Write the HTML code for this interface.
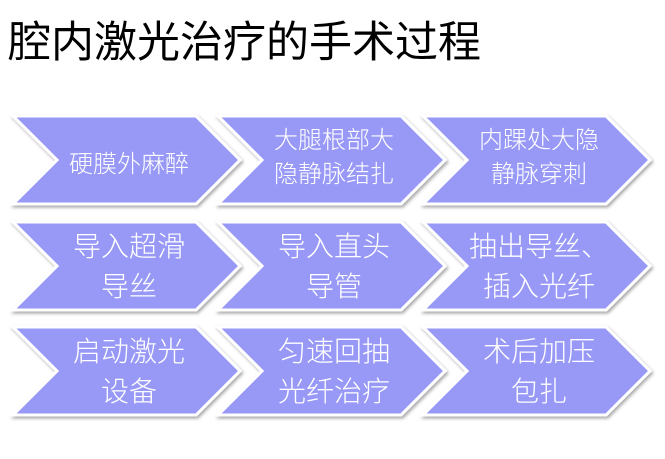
<!DOCTYPE html>
<html><head><meta charset="utf-8"><style>
body{margin:0;width:665px;height:459px;background:#fff;overflow:hidden;position:relative;font-family:"Liberation Sans","Noto Sans CJK SC",sans-serif}
.t{position:absolute;left:8px;top:8px;font-size:43px;color:#000;white-space:nowrap}
.l{position:absolute;color:#fff;text-align:center;width:180px;white-space:nowrap;font-weight:300}
</style></head><body>
<div class="t">腔内激光治疗的手术过程</div>
<svg width="665" height="459" style="position:absolute;left:0;top:0">
<defs><filter id="s" x="-10%" y="-10%" width="130%" height="130%"><feDropShadow dx="1.5" dy="2" stdDeviation="1.5" flood-color="#000" flood-opacity="0.35"/></filter>
<g id="c"><polygon points="0,0 183,0 227,44 183,88 0,88 44,44" fill="#9899f6" stroke="#fff" stroke-width="3" stroke-linejoin="miter" filter="url(#s)"/></g></defs>
<use href="#c" x="13" y="116"/><use href="#c" x="218" y="116"/><use href="#c" x="423" y="116"/>
<use href="#c" x="13" y="222"/><use href="#c" x="218" y="222"/><use href="#c" x="423" y="222"/>
<use href="#c" x="13" y="327"/><use href="#c" x="218" y="327"/><use href="#c" x="423" y="327"/>
</svg>
<div class="l" style="left:39px;top:144px;font-size:24px">硬膜外麻醉</div>
<div class="l" style="left:244px;top:124px;font-size:24px;line-height:34px">大腿根部大<br>隐静脉结扎</div>
<div class="l" style="left:449px;top:124px;font-size:24px;line-height:34px">内踝处大隐<br>静脉穿刺</div>
<div class="l" style="left:39px;top:227px;font-size:28px;line-height:40px">导入超滑<br>导丝</div>
<div class="l" style="left:244px;top:227px;font-size:28px;line-height:40px">导入直头<br>导管</div>
<div class="l" style="left:449px;top:227px;font-size:28px;line-height:40px">抽出导丝、<br>插入光纤</div>
<div class="l" style="left:39px;top:332px;font-size:28px;line-height:40px">启动激光<br>设备</div>
<div class="l" style="left:244px;top:332px;font-size:28px;line-height:40px">匀速回抽<br>光纤治疗</div>
<div class="l" style="left:449px;top:332px;font-size:28px;line-height:40px">术后加压<br>包扎</div>
</body></html>
